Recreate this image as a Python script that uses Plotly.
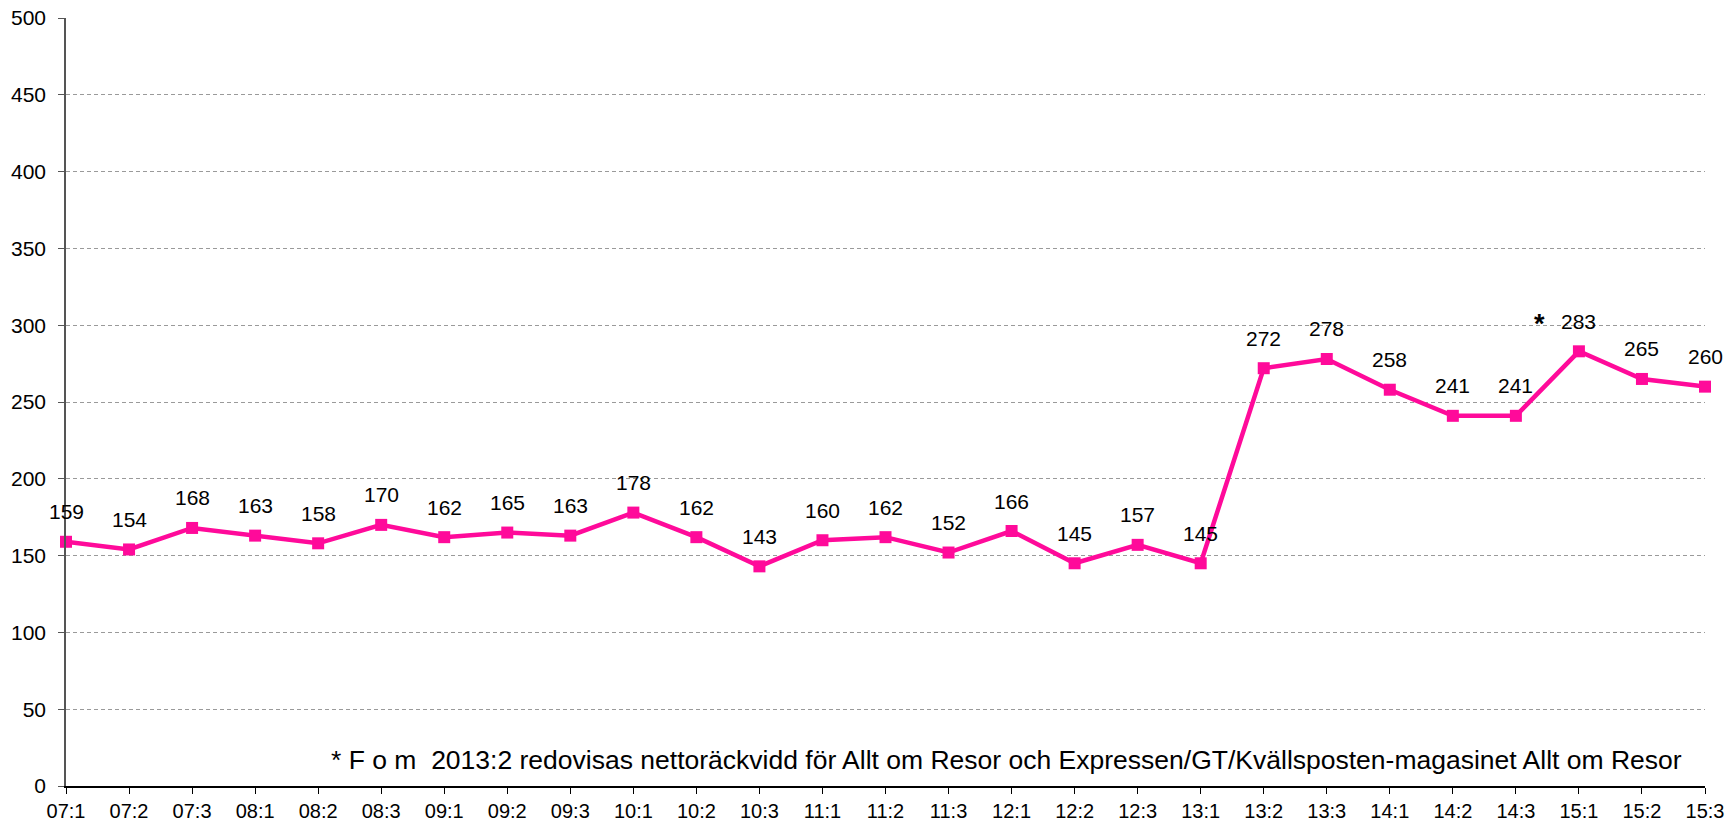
import plotly.graph_objects as go

# Quarter labels (year:quarter) and reach values
quarters = ["07:1", "07:2", "07:3", "08:1", "08:2", "08:3", "09:1", "09:2", "09:3",
            "10:1", "10:2", "10:3", "11:1", "11:2", "11:3", "12:1", "12:2", "12:3",
            "13:1", "13:2", "13:3", "14:1", "14:2", "14:3", "15:1", "15:2", "15:3"]
reach = [159, 154, 168, 163, 158, 170, 162, 165, 163,
         178, 162, 143, 160, 162, 152, 166, 145, 157,
         145, 272, 278, 258, 241, 241, 283, 265, 260]
y_ticks = [0, 50, 100, 150, 200, 250, 300, 350, 400, 450, 500]

footnote = ("* F o m\u00a0 2013:2 redovisas nettoräckvidd för Allt om Resor och "
            "Expressen/GT/Kvällsposten-magasinet Allt om Resor")

PINK = "#FF0A9A"
FONT = "Liberation Sans, Arial, sans-serif"

fig = go.Figure()
fig.add_trace(go.Scatter(
    x=quarters, y=reach, mode="lines+markers",
    line=dict(color=PINK, width=4.5),
    marker=dict(symbol="square", size=12, color=PINK),
    cliponaxis=False, hoverinfo="x+y",
))

# value labels above each point
for q, v in zip(quarters, reach):
    fig.add_annotation(x=q, y=v, text=str(v), showarrow=False, yshift=30,
                       font=dict(size=21, color="#000000", family=FONT))

# asterisk marking the change of measurement
fig.add_annotation(x=23.38, y=300.5, text="<b>*</b>", showarrow=False,
                   font=dict(size=27, color="#000000", family=FONT))

fig.add_annotation(xref="paper", yref="paper", x=0.1605, y=0.034,
                   xanchor="left", yanchor="middle", text=footnote, showarrow=False,
                   font=dict(size=26.5, color="#000000", family=FONT))

fig.update_layout(
    width=1729, height=822,
    margin=dict(l=66, r=24, t=18, b=36),
    paper_bgcolor="white", plot_bgcolor="white",
    showlegend=False,
    font=dict(family=FONT, size=21, color="#000000"),
)
fig.update_xaxes(
    type="category", range=[0, len(quarters) - 1], automargin=False,
    showgrid=False, showline=True, linecolor="#000000", linewidth=1.5,
    ticks="outside", ticklen=6, tickcolor="#000000", tickwidth=1,
    tickfont=dict(size=20, family=FONT), zeroline=False,
    ticklabelstandoff=0,
)
fig.update_yaxes(
    range=[0, 500], tickvals=y_ticks, automargin=False,
    showgrid=True, gridcolor="#9a9a9a", gridwidth=1, griddash="4px,3px",
    showline=True, linecolor="#555555", linewidth=1.5,
    ticks="outside", ticklen=6, tickcolor="#555555",
    tickfont=dict(size=21, family=FONT), zeroline=False,
    ticklabelstandoff=8,
)

fig.write_html("out.html")
